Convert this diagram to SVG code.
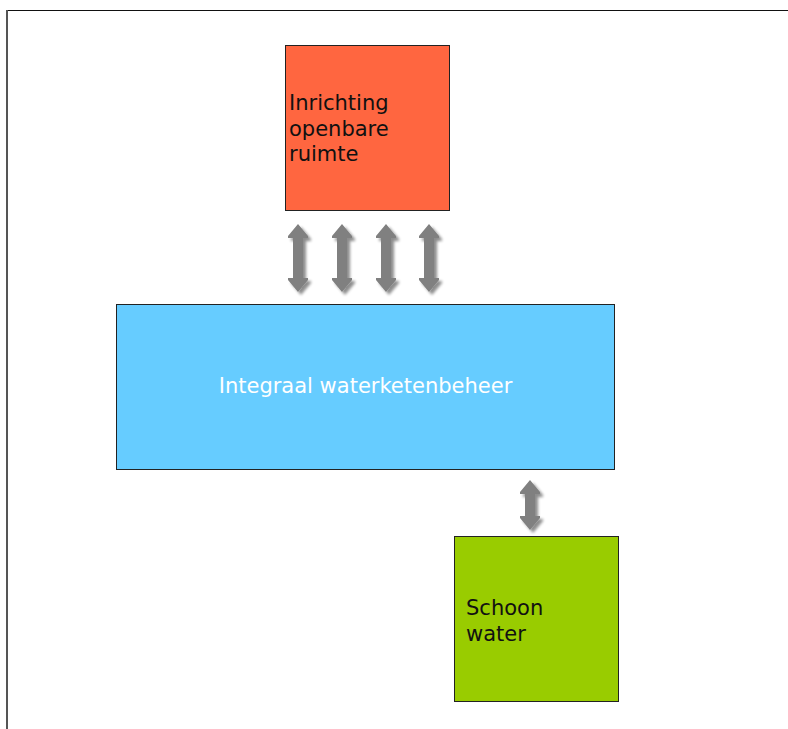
<svg xmlns="http://www.w3.org/2000/svg" width="788" height="729" viewBox="0 0 788 729">
<style>
.box{stroke:#222;stroke-width:1}
.t{font-family:"DejaVu Sans",Verdana,sans-serif;font-size:21px}
.arr{fill:#808080;filter:url(#sh)}
</style>
<defs>
<filter id="sh" x="-50%" y="-20%" width="200%" height="140%">
<feGaussianBlur in="SourceAlpha" stdDeviation="1.8"/>
<feOffset dx="3" dy="3" result="b"/>
<feComponentTransfer><feFuncA type="linear" slope="0.45"/></feComponentTransfer>
<feMerge><feMergeNode/><feMergeNode in="SourceGraphic"/></feMerge>
</filter>
<path id="da" d="M0,-34 L10,-22 L10,-20 L5,-20 L5,20 L10,20 L10,22 L0,34 L-10,22 L-10,20 L-5,20 L-5,-20 L-10,-20 L-10,-22 Z"/>
<path id="da2" d="M0,-25 L10,-13 L10,-11 L5,-11 L5,11 L10,11 L10,13 L0,25 L-10,13 L-10,11 L-5,11 L-5,-11 L-10,-11 L-10,-13 Z"/>
</defs>
<rect width="788" height="729" fill="#fff"/>
<line x1="6" y1="10.5" x2="788" y2="10.5" stroke="#111" stroke-width="1"/>
<line x1="7" y1="10" x2="7" y2="729" stroke="#555" stroke-width="2"/>
<g id="connectors">
<use href="#da" x="298" y="258" class="arr"/>
<use href="#da" x="342" y="258" class="arr"/>
<use href="#da" x="386" y="258" class="arr"/>
<use href="#da" x="429" y="258" class="arr"/>
<use href="#da2" x="530" y="505" class="arr"/>
</g>
<g id="inrichting">
<rect class="box" x="285.5" y="45.5" width="164" height="165" fill="#FF6640"/>
<text class="t" fill="#111" x="289" y="110">Inrichting</text>
<text class="t" fill="#111" x="289" y="136">openbare</text>
<text class="t" fill="#111" x="289" y="161">ruimte</text>
</g>
<g id="integraal">
<rect class="box" x="116.5" y="304.5" width="498" height="165" fill="#66CCFF"/>
<text class="t" fill="#fff" x="365.5" y="393" text-anchor="middle">Integraal waterketenbeheer</text>
</g>
<g id="schoon">
<rect class="box" x="454.5" y="536.5" width="164" height="165" fill="#99CC00"/>
<text class="t" fill="#111" x="466" y="615">Schoon</text>
<text class="t" fill="#111" x="466" y="641">water</text>
</g>
</svg>
